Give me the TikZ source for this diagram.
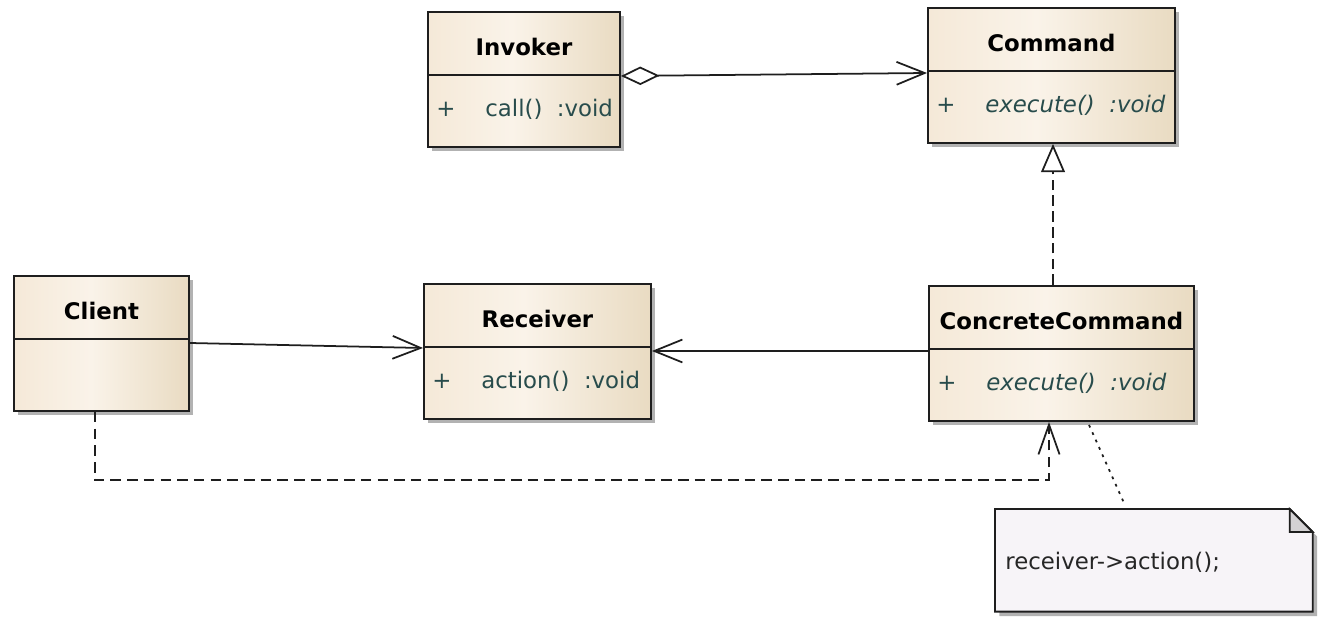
\documentclass[tikz,border=0pt]{standalone}
\usepackage{fontspec}
\setmainfont{DejaVu Sans}
\usetikzlibrary{arrows.meta,shadows,calc}
\definecolor{classleft}{RGB}{245,233,216}
\definecolor{classmid}{RGB}{250,243,233}
\definecolor{classright}{RGB}{233,219,194}
\definecolor{membertext}{RGB}{40,76,76}
\definecolor{notefill}{RGB}{247,244,248}
\definecolor{foldgray}{RGB}{212,210,212}
\definecolor{umlline}{RGB}{30,30,30}
\pgfdeclarehorizontalshading{classshade}{100bp}{color(0bp)=(classleft); color(25bp)=(classleft); color(47bp)=(classmid); color(75bp)=(classright); color(100bp)=(classright)}
\tikzset{
  classbox/.style={draw=umlline, line width=1.1pt, shading=classshade, inner sep=0pt,
    anchor=north west, minimum height=135*0.02cm,
    drop shadow={shadow xshift=2.5pt, shadow yshift=-2.5pt, opacity=.3, fill=black}},
  classname/.style={font=\fontsize{13}{15}\selectfont\bfseries, anchor=base, inner sep=0pt},
  member/.style={text=membertext, anchor=base west, inner sep=0pt},
  assoc/.style={draw=umlline, line width=1pt, -{Straight Barb[length=16pt,width=13pt]}},
  aggr/.style={draw=umlline, line width=1pt, {Diamond[length=22pt,width=10.5pt,fill=white]}-{Straight Barb[length=16pt,width=13pt]}},
  realize/.style={draw=umlline, line width=1pt, dash pattern=on 6pt off 3pt, -{Triangle[open,length=16pt,width=13.5pt,fill=white]}},
  depend/.style={draw=umlline, line width=1pt, dash pattern=on 6pt off 3.5pt, -{Straight Barb[length=17pt,width=12pt]}},
  notelink/.style={draw=umlline, line width=1pt, dash pattern=on 1.6pt off 3pt},
}
% class box: name, left, top, width, title
\newcommand{\umlclass}[5]{%
  \node[classbox, minimum width=#4*0.02cm] (#1) at (#2,#3) {};
  \draw[umlline, line width=1.1pt] (#1.north west) ++(0,64) -- ++(#4,0);
  \path (#1.north) ++(0,45) node[classname] (#1-name) {#5};
}
% one operation row: name, text
\newcommand{\umlop}[2]{%
  \path (#1.north west) ++(19,106) node[member, anchor=base] (#1-plus) {+}
    ++(39,0) node[member] (#1-op) {#2};
}
\begin{document}
\begin{tikzpicture}[x=0.02cm, y=-0.02cm, font=\fontsize{13}{15}\selectfont]
\useasboundingbox (0,0) rectangle (1338,634);
\umlclass{Invoker}{427}{11}{192}{Invoker}
\umlop{Invoker}{call()\ \ :void}
\umlclass{Command}{927}{7}{247}{Command}
\umlop{Command}{\itshape execute()\ \ :void}
\umlclass{Client}{13}{275}{175}{Client}
\umlclass{Receiver}{423}{283}{227}{Receiver}
\umlop{Receiver}{action()\ \ :void}
\umlclass{ConcreteCommand}{928}{285}{265}{ConcreteCommand}
\umlop{ConcreteCommand}{\itshape execute()\ \ :void}
% note
\node[inner sep=0pt, anchor=north west, minimum width=317*0.02cm, minimum height=102*0.02cm] (Note) at (995,509) {};
\draw[umlline, line width=1.1pt, fill=notefill, drop shadow={shadow xshift=2.5pt, shadow yshift=-2.5pt, opacity=.3, fill=black}]
  (Note.north west) -- ($(Note.north east)+(-23,0)$) -- ($(Note.north east)+(0,23)$)
  -- (Note.south east) -- (Note.south west) -- cycle;
\draw[umlline, line width=1pt, fill=foldgray] ($(Note.north east)+(-23,0)$) -- ++(0,23) -- ++(23,0) -- cycle;
\path (Note.north west) ++(10,60) node[anchor=base west, inner sep=0pt, text=black!85] (NoteText) {receiver->action();};
% connectors
\draw[aggr] ($(Invoker.north east)+(0,65)$) -- ($(Command.north west)+(0,66)$);
\draw[assoc] ($(Client.north east)+(0,68)$) -- ($(Receiver.north west)+(0,65)$);
\draw[assoc] ($(ConcreteCommand.north west)+(0,66)$) -- ($(Receiver.north east)+(0,68)$);
\draw[realize] ($(ConcreteCommand.north west)+(125,0)$) -- ($(Command.south west)+(126,0)$);
\draw[depend] ($(Client.south west)+(82,0)$) -- ++(0,68) -| ($(ConcreteCommand.south west)+(121,0)$);
\draw[notelink] ($(ConcreteCommand.south west)+(161,3)$) -- ($(Note.north west)+(129,-6)$);
\end{tikzpicture}
\end{document}
